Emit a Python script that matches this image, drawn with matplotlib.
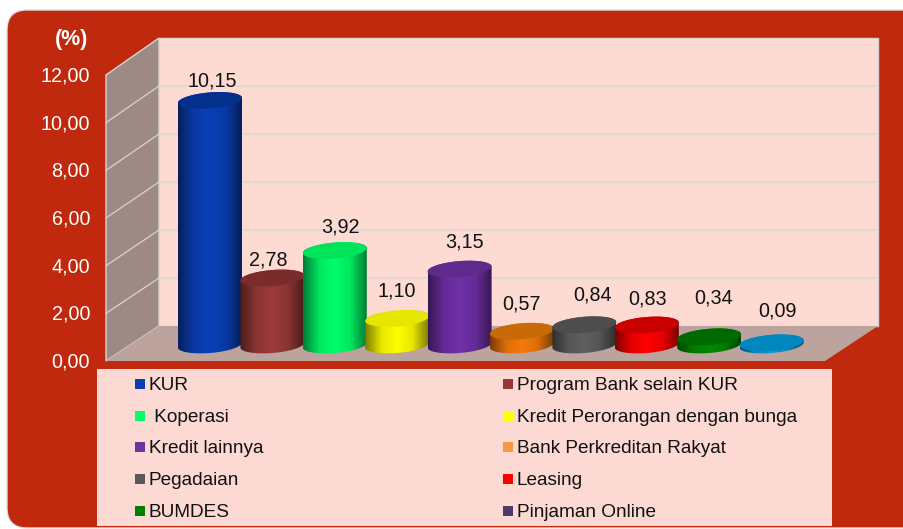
import numpy as np
import matplotlib
matplotlib.use("Agg")
import matplotlib.pyplot as plt
from matplotlib.colors import LinearSegmentedColormap, to_rgb
from matplotlib.patches import FancyBboxPatch, Polygon, Rectangle
from matplotlib.transforms import ScaledTranslation

plt.rcParams["font.family"] = ["Liberation Sans", "DejaVu Sans"]

categories = ["KUR", "Program Bank selain KUR", " Koperasi", "Kredit Perorangan dengan bunga",
              "Kredit lainnya", "Bank Perkreditan Rakyat", "Pegadaian", "Leasing",
              "BUMDES", "Pinjaman Online"]
values = [10.15, 2.78, 3.92, 1.10, 3.15, 0.57, 0.84, 0.83, 0.34, 0.09]
value_labels = ["10,15", "2,78", "3,92", "1,10", "3,15", "0,57", "0,84", "0,83", "0,34", "0,09"]
y_ticks = [0, 2, 4, 6, 8, 10, 12]
y_tick_labels = ["0,00", "2,00", "4,00", "6,00", "8,00", "10,00", "12,00"]

bar_colors = ["#0A3FB8", "#9A3B38", "#00FF6A", "#FFFF00", "#7030A8",
              "#F57A0A", "#5F5F5F", "#FF0000", "#008A00", "#0A9AD2"]
cap_colors = ["#03308C", "#7A2C2B", "#00E35B", "#E6E600", "#60298C",
              "#C96A08", "#4D4D4D", "#C80000", "#006A00", "#0088BE"]
legend_colors = ["#0A3FB4", "#953735", "#00FF6A", "#FFFF00", "#7030A0",
                 "#F79646", "#595959", "#FF0000", "#008000", "#4A3B68"]

# label shift from the top of each cylinder, pixels
label_dx = [2, -4, 6, 0, 5, 0, 8, 1, 4, 6]
label_dy = [11.5, 10, 15.5, 19.5, 19, 19, 22, 18, 31, 24]

RED = "#C0290D"
PINK = "#FDDAD2"
W, H = 904, 529
UX = 62.4   # pixels per category
UY = 23.83  # pixels per value unit

fig = plt.figure(figsize=(W / 100, H / 100), dpi=100, facecolor="white")

# frame and legend panel, in pixels
bg = fig.add_axes([0, 0, 1, 1])
bg.set_xlim(0, W)
bg.set_ylim(H, 0)
bg.axis("off")
bg.add_patch(FancyBboxPatch((7 + 20, 10 + 20), 900, 478, boxstyle="round,pad=20,rounding_size=20",
                            fc=RED, ec="#DDDDDD", lw=1))
bg.add_patch(Rectangle((97, 369), 735, 157, fc="#FCD9D3", ec="none"))
bg.text(72, 39, "(%)", color="white", fontsize=15.5, fontweight="bold", ha="center", va="center")

for i, name in enumerate(categories):
    row = i // 2
    y = [384, 416, 447, 479, 511][row]
    x = 135 if i % 2 == 0 else 503
    bg.add_patch(Rectangle((x, y - 5), 10, 10, fc=legend_colors[i], ec="none"))
    bg.text(x + 14, y + 1.5, name, color="#111111", fontsize=13.7, va="center", ha="left")

# chart axes sit on the front plane of the 3d box
ax = fig.add_axes([106 / W, (H - 361) / H, 719 / W, 286 / H])
ax.patch.set_visible(False)
for s in ax.spines.values():
    s.set_visible(False)
ax.set_xticks([])
ax.set_yticks(y_ticks)
ax.set_yticklabels(y_tick_labels, color="white", fontsize=14.2)
ax.tick_params(axis="y", length=0, pad=11.5)
for lab in ax.get_yticklabels():
    lab.set_transform(lab.get_transform() + ScaledTranslation(0, 1 / 100, fig.dpi_scale_trans))

xlim = (-104 / UX, 615 / UX)
depth_x = 53 / UX
depth_y = 35 / UY
back_gain = 2 / UY  # back wall is a little taller than the front plane
x0, x1 = xlim
top_back = 12 + depth_y + back_gain

# walls and floor
ax.add_patch(Polygon([(x0 + depth_x, depth_y), (x1 + depth_x, depth_y), (x1 + depth_x, top_back),
                      (x0 + depth_x, top_back)], fc=PINK, ec="#D5D5D5", lw=1, clip_on=False))
ax.add_patch(Polygon([(x0, 0), (x0 + depth_x, depth_y), (x0 + depth_x, top_back), (x0, 12)],
                     fc="#9E8A84", ec="#D5D5D5", lw=1, clip_on=False))
ax.add_patch(Polygon([(x0, 0), (x0 + depth_x, depth_y), (x1 + depth_x, depth_y), (x1, 0)],
                     fc="#BCA39E", ec="none", clip_on=False))
for t in y_ticks[1:-1]:
    yb = t + depth_y + back_gain * t / 12
    ax.plot([x0, x0 + depth_x, x1 + depth_x], [t, yb, yb], color="#D5D5D5", lw=0.9, clip_on=False)

# cylinders
a = 32 / UX
b = 8 / UY
tilt = 2.5 / UY
base = 16 / UY
theta = np.linspace(0, 2 * np.pi, 121)


def ellipse(cx, cy):
    return cx + a * np.cos(theta), cy + b * np.sin(theta) + tilt * np.cos(theta)


for i, v in enumerate(values):
    top = base + v * 1.011
    lower = theta[60:]
    upper = theta[:61]
    bx = a * np.cos(lower) + i
    by = base + b * np.sin(lower) + tilt * np.cos(lower)
    tx = a * np.cos(upper) + i
    ty = top + b * np.sin(upper) + tilt * np.cos(upper)
    body = Polygon(np.column_stack([np.r_[bx, tx], np.r_[by, ty]]), fc="none", ec="none", zorder=3 + i)
    ax.add_patch(body)
    c = np.array(to_rgb(bar_colors[i]))
    cmap = LinearSegmentedColormap.from_list("c", [c * 0.5, c * 0.9, c, c * 0.9, c * 0.5])
    im = ax.imshow(np.linspace(0, 1, 64)[None, :], cmap=cmap, aspect="auto", zorder=3 + i,
                   extent=(i - a, i + a, base - b * 1.5, top + b * 1.5))
    im.set_clip_path(body)
    ex, ey = ellipse(i, top)
    ax.fill(ex, ey, color=cap_colors[i], lw=0, zorder=3 + i, clip_on=False)
    ax.annotate(value_labels[i], (i, top + b), xytext=(label_dx[i] * 0.72, label_dy[i] * 0.72),
                textcoords="offset points", ha="center", va="center", fontsize=14.2,
                color="#111111", zorder=20, annotation_clip=False)

ax.set_xlim(*xlim)
ax.set_ylim(0, 12)
fig.savefig("out.png", dpi=100, facecolor=fig.get_facecolor())
